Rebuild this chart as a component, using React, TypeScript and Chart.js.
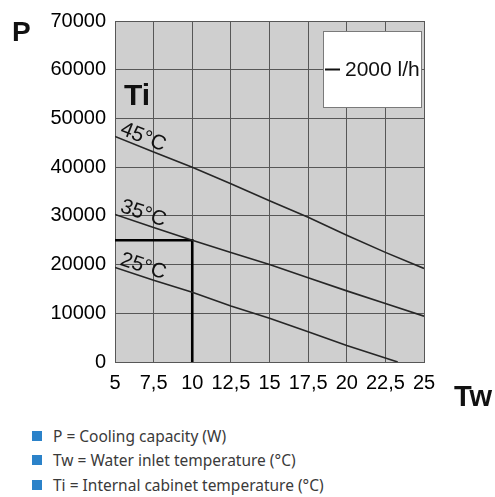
import React, { useEffect, useRef } from "react";
import { Chart, registerables } from "chart.js";

Chart.register(...registerables);

// ---- data ----
const twTicksMin = 5;
const twTicksMax = 25;
const twStep = 2.5;
const pMin = 0;
const pMax = 70000;
const pStep = 10000;

const tw45 = [5, 7.5, 10, 12.5, 15, 17.5, 20, 22.5, 25];
const p45 = [46300, 43100, 40000, 36600, 33100, 29700, 26000, 22500, 19200];

const tw35 = [5, 7.5, 10, 12.5, 15, 17.5, 20, 22.5, 25];
const p35 = [30300, 27600, 25000, 22500, 20000, 17300, 14600, 12000, 9400];

const tw25 = [5, 7.5, 10, 12.5, 15, 17.5, 20, 22.5, 23.3];
const p25 = [19400, 16800, 14300, 11500, 9000, 6200, 3400, 800, 0];

const refTw = [5, 10, 10];
const refP = [25000, 25000, 0];

const curveLabels = ["45°C", "35°C", "25°C"];
const flowLabel = "2000 l/h";
const axisPLabel = "P";
const axisTwLabel = "Tw";
const axisTiLabel = "Ti";
const notes = [
  "P = Cooling capacity (W)",
  "Tw = Water inlet temperature (°C)",
  "Ti = Internal cabinet temperature (°C)",
];

const toPoints = (xs: number[], ys: number[]) => xs.map((x, i) => ({ x, y: ys[i] }));

const ARIAL = "'Liberation Sans', Arial, sans-serif";

export default function App() {
  const canvasRef = useRef<HTMLCanvasElement | null>(null);

  useEffect(() => {
    const canvas = canvasRef.current;
    if (!canvas) return;

    const bgPlugin = {
      id: "plotBg",
      beforeDraw(chart: any) {
        const { ctx, chartArea } = chart;
        ctx.save();
        ctx.fillStyle = "#cfcfcf";
        ctx.fillRect(chartArea.left, chartArea.top, chartArea.right - chartArea.left, chartArea.bottom - chartArea.top);
        ctx.restore();
      },
    };

    const annotPlugin = {
      id: "annot",
      afterDatasetsDraw(chart: any) {
        const { ctx, chartArea, scales } = chart;
        const xs = scales.x;
        const ys = scales.y;
        [0, 1, 2].forEach((i) => {
          const pts = chart.data.datasets[i].data;
          const x0 = xs.getPixelForValue(pts[0].x);
          const y0 = ys.getPixelForValue(pts[0].y);
          const x1 = xs.getPixelForValue(pts[1].x);
          const y1 = ys.getPixelForValue(pts[1].y);
          const ang = Math.atan2(y1 - y0, x1 - x0);
          ctx.save();
          ctx.translate(x0, y0);
          ctx.rotate(ang);
          ctx.font = `21px ${ARIAL}`;
          ctx.fillStyle = "#111";
          ctx.textBaseline = "alphabetic";
          ctx.textAlign = "left";
          ctx.fillText(curveLabels[i], 3, -4);
          ctx.restore();
        });

        // legend box
        const bw = 99;
        const bh = 77;
        const bx = chartArea.right - 2 - bw;
        const by = chartArea.top + 10;
        ctx.save();
        ctx.fillStyle = "#ffffff";
        ctx.fillRect(bx, by, bw, bh);
        ctx.strokeStyle = "#7a7a7a";
        ctx.lineWidth = 1;
        ctx.strokeRect(bx + 0.5, by + 0.5, bw - 1, bh - 1);
        const cy = by + bh / 2;
        ctx.strokeStyle = "#111";
        ctx.lineWidth = 2;
        ctx.beginPath();
        ctx.moveTo(bx + 2, cy);
        ctx.lineTo(bx + 17, cy);
        ctx.stroke();
        ctx.font = `21px ${ARIAL}`;
        ctx.fillStyle = "#111";
        ctx.textBaseline = "middle";
        ctx.textAlign = "left";
        ctx.fillText(flowLabel, bx + 22, cy + 1);
        ctx.restore();

        // Ti label
        ctx.save();
        ctx.font = `bold 30px ${ARIAL}`;
        ctx.fillStyle = "#111";
        ctx.textBaseline = "alphabetic";
        ctx.fillText(axisTiLabel, chartArea.left + 9, ys.getPixelForValue(50000) - 13);
        ctx.restore();
      },
      afterDraw(chart: any) {
        const { ctx, chartArea } = chart;
        ctx.save();
        ctx.fillStyle = "#111";
        ctx.textBaseline = "alphabetic";
        ctx.textAlign = "left";
        ctx.font = `bold 28px ${ARIAL}`;
        ctx.fillText(axisPLabel, 12, chartArea.top + 20);
        ctx.font = `bold 29px ${ARIAL}`;
        ctx.fillText(axisTwLabel, chartArea.right + 30, chartArea.bottom + 44);
        ctx.restore();
      },
    };

    const chart = new Chart(canvas, {
      type: "scatter",
      data: {
        datasets: [
          { label: curveLabels[0], data: toPoints(tw45, p45), showLine: true, borderColor: "#262626", borderWidth: 1.6, pointRadius: 0 },
          { label: curveLabels[1], data: toPoints(tw35, p35), showLine: true, borderColor: "#262626", borderWidth: 1.6, pointRadius: 0 },
          { label: curveLabels[2], data: toPoints(tw25, p25), showLine: true, borderColor: "#262626", borderWidth: 1.6, pointRadius: 0 },
          { label: "ref", data: toPoints(refTw, refP), showLine: true, borderColor: "#000000", borderWidth: 2.6, pointRadius: 0 },
        ],
      },
      options: {
        animation: false,
        responsive: false,
        maintainAspectRatio: false,
        layout: { padding: { top: 15, right: 71, left: 0, bottom: 0 } },
        plugins: { legend: { display: false }, tooltip: { enabled: false } },
        scales: {
          x: {
            type: "linear",
            min: twTicksMin,
            max: twTicksMax,
            afterFit(scale: any) {
              scale.height = 58;
            },
            ticks: {
              stepSize: twStep,
              autoSkip: false,
              maxRotation: 0,
              padding: 9,
              color: "#000",
              font: { family: ARIAL, size: 20 },
              callback: (v: any) => String(v).replace(".", ","),
            },
            grid: { color: "#575757", lineWidth: 1, drawTicks: false },
            border: { color: "#575757", width: 1 },
          },
          y: {
            type: "linear",
            min: pMin,
            max: pMax,
            afterFit(scale: any) {
              scale.width = 115;
            },
            ticks: {
              stepSize: pStep,
              padding: 9,
              color: "#000",
              font: { family: ARIAL, size: 20 },
              callback: (v: any) => String(v),
            },
            grid: { color: "#575757", lineWidth: 1, drawTicks: false },
            border: { color: "#575757", width: 1 },
          },
        },
      },
      plugins: [bgPlugin, annotPlugin],
    } as any);

    return () => chart.destroy();
  }, []);

  return (
    <div style={{ position: "fixed", left: 0, top: 0, width: 495, height: 497, background: "#fff", overflow: "hidden" }}>
      <canvas ref={canvasRef} width={495} height={420} style={{ display: "block", width: 495, height: 420 }} />
      <div style={{ position: "absolute", left: 32, top: 424, fontFamily: "'Noto Sans', sans-serif", fontSize: 15.5, color: "#3a3a3a" }}>
        {notes.map((n) => (
          <div key={n} style={{ display: "flex", alignItems: "center", height: 24.3, whiteSpace: "nowrap" }}>
            <span style={{ display: "inline-block", width: 10, height: 10, background: "#2b82c9", marginRight: 11 }} />
            <span>{n}</span>
          </div>
        ))}
      </div>
    </div>
  );
}
